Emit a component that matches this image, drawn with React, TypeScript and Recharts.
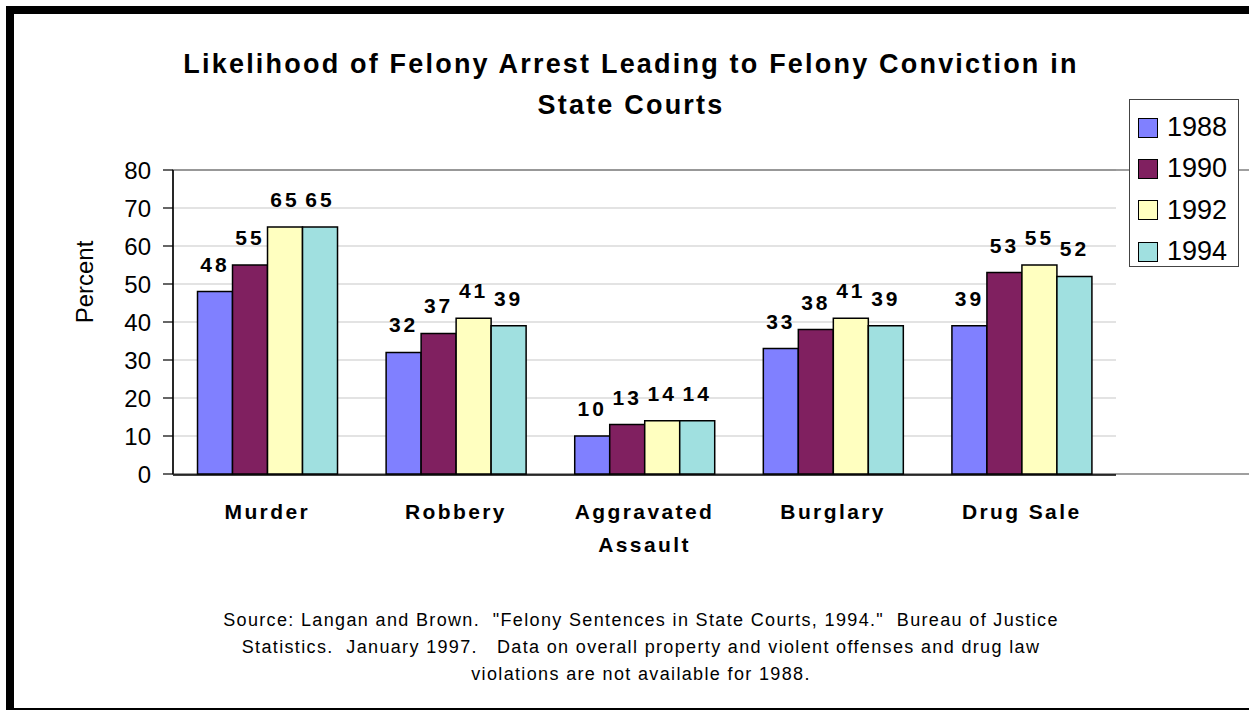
import React from 'react';
import { BarChart, Bar, XAxis, YAxis, CartesianGrid, Legend, LabelList, ReferenceArea } from 'recharts';

const categories = ['Murder', 'Robbery', 'Aggravated Assault', 'Burglary', 'Drug Sale'];
const v1988 = [48, 32, 10, 33, 39];
const v1990 = [55, 37, 13, 38, 53];
const v1992 = [65, 41, 14, 41, 55];
const v1994 = [65, 39, 14, 39, 52];
const years = ['1988', '1990', '1992', '1994'];
const colors = ['#8080FF', '#802060', '#FFFFC0', '#A0E0E0'];
const yTicks = [0, 10, 20, 30, 40, 50, 60, 70, 80];
const edgeTicks = [0, 1, 2, 3, 4, 5];

const data = categories.map((c, i) => ({
  category: c,
  y1988: v1988[i],
  y1990: v1990[i],
  y1992: v1992[i],
  y1994: v1994[i],
}));

const FONT = "Arial, 'Liberation Sans', sans-serif";

// wraps long category names onto two lines, bold and letter-spaced like the original
const CategoryTick = (props: any) => {
  const { x, y, payload } = props;
  const words = String(payload.value).split(' ');
  const lines: string[] = [];
  let cur = '';
  words.forEach((w) => {
    if (cur && (cur + ' ' + w).length > 12) {
      lines.push(cur);
      cur = w;
    } else {
      cur = cur ? cur + ' ' + w : w;
    }
  });
  if (cur) lines.push(cur);
  return (
    <text x={x} y={y + 37} textAnchor="middle" fontFamily={FONT} fontWeight="bold" fontSize={21} letterSpacing={2.4} fill="#000">
      {lines.map((l, i) => (
        <tspan key={i} x={x} dy={i === 0 ? 0 : 33}>{l}</tspan>
      ))}
    </text>
  );
};

const LegendBox = (props: any) => {
  const { payload } = props;
  return (
    <div style={{ width: 110, height: 168, border: '1px solid #444', background: '#fff', boxSizing: 'border-box', paddingTop: 7 }}>
      {(payload || []).map((p: any) => (
        <div key={p.value} style={{ display: 'flex', alignItems: 'center', height: 41.3, paddingLeft: 8 }}>
          <div style={{ width: 18, height: 18, background: p.color, border: '1.5px solid #000', marginRight: 9 }} />
          <span style={{ fontFamily: FONT, fontSize: 27, color: '#000' }}>{p.value}</span>
        </div>
      ))}
    </div>
  );
};

export default function App() {
  const keys = ['y1988', 'y1990', 'y1992', 'y1994'];
  return (
    <div style={{ position: 'absolute', left: 0, top: 0, width: 1249, height: 711, background: '#fff', overflow: 'hidden' }}>
      <div style={{ position: 'absolute', left: 6, top: 6, width: 1300, height: 704, borderTop: '8px solid #000', borderLeft: '8px solid #000', borderBottom: '2px solid #000', boxSizing: 'border-box' }} />
      <div style={{ position: 'absolute', left: 131, top: 44, width: 1000, textAlign: 'center', fontFamily: FONT, fontWeight: 'bold', fontSize: 27, lineHeight: '41px', letterSpacing: 2.2, color: '#000' }}>
        Likelihood of Felony Arrest Leading to Felony Conviction in<br />State Courts
      </div>
      <div style={{ position: 'absolute', left: 35, top: 264, width: 100, textAlign: 'center', transform: 'rotate(-90deg)', fontFamily: FONT, fontSize: 24, lineHeight: '36px', color: '#000' }}>
        Percent
      </div>
      <div style={{ position: 'absolute', left: 141, top: 607, width: 1000, textAlign: 'center', whiteSpace: 'pre', fontFamily: FONT, fontSize: 18, lineHeight: '27px', letterSpacing: 1.35, color: '#000' }}>
        {'Source: Langan and Brown.  "Felony Sentences in State Courts, 1994."  Bureau of Justice\nStatistics.  January 1997.   Data on overall property and violent offenses and drug law\nviolations are not available for 1988.'}
      </div>
      <div style={{ position: 'absolute', left: 0, top: 0 }}>
        <BarChart
          width={1249}
          height={711}
          data={data}
          margin={{ top: 170, right: 133, left: 113, bottom: 235 }}
          barCategoryGap="13%"
          barGap={0}
        >
          <CartesianGrid horizontal vertical={false} stroke="#c8c8c8" strokeWidth={1.2} />
          <ReferenceArea xAxisId="edge" x1={0} x2={5} y1={0} y2={80} fill="none" stroke="#808080" strokeWidth={1.5} ifOverflow="visible" />
          <XAxis dataKey="category" height={1} axisLine={false} tickLine={false} tick={<CategoryTick />} interval={0} />
          <XAxis
            xAxisId="edge"
            type="number"
            domain={[0, 5]}
            ticks={edgeTicks}
            allowDataOverflow
            height={1}
            tick={false}
            tickSize={7}
            tickLine={{ stroke: '#000', strokeWidth: 1.2 }}
            axisLine={{ stroke: '#000', strokeWidth: 1.5 }}
          />
          <YAxis
            width={60}
            domain={[0, 80]}
            ticks={yTicks}
            interval={0}
            tickSize={10}
            tickMargin={12}
            axisLine={{ stroke: '#000', strokeWidth: 1.5 }}
            tickLine={{ stroke: '#000', strokeWidth: 1.2 }}
            tick={{ fontFamily: FONT, fontSize: 24, fill: '#000' }}
          />
          <Legend
            layout="vertical"
            align="center"
            verticalAlign="middle"
            content={<LegendBox />}
            wrapperStyle={{ left: 1129, top: 99, width: 110, height: 168 }}
          />
          {keys.map((k, i) => (
            <Bar key={k} dataKey={k} name={years[i]} fill={colors[i]} stroke="#000" strokeWidth={1.5} isAnimationActive={false}>
              <LabelList dataKey={k} position="top" offset={20} fontFamily={FONT} fontWeight="bold" fontSize={21} letterSpacing={3} fill="#000" />
            </Bar>
          ))}
        </BarChart>
      </div>
    </div>
  );
}
